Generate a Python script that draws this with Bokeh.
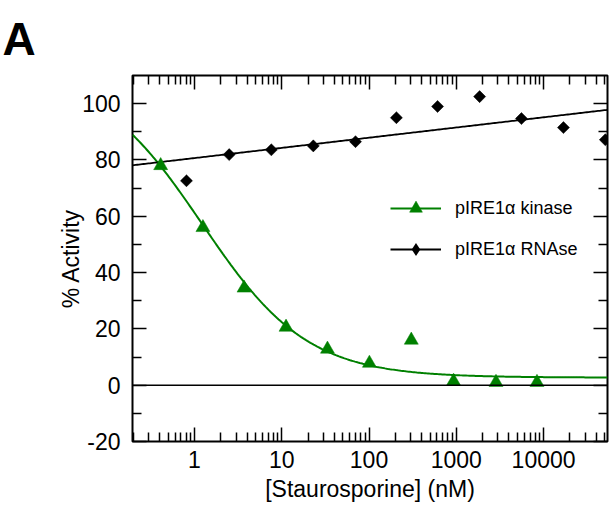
import numpy as np
from bokeh.plotting import figure
from bokeh.models import (LogAxis, LinearAxis, FixedTicker, Legend, LegendItem,
                          Span, Range1d, ColumnDataSource, CDSView, IndexFilter)
from bokeh.embed import file_html
from bokeh.resources import INLINE

# ---- data ----
kinase_conc = [0.41, 1.25, 3.7, 11.2, 33.4, 101, 305, 930, 2850, 8400]
kinase_activity = [78.0, 56.0, 34.5, 20.6, 12.8, 7.8, 16.0, 1.4, 1.0, 1.0]
rnase_conc = [0.81, 2.5, 7.6, 23, 70, 206, 610, 1850, 5580, 16900, 51000]
rnase_activity = [72.6, 81.9, 83.6, 85.0, 86.5, 95.0, 99.0, 102.5, 94.7, 91.5, 87.2]

# fitted model parameters
kin_top, kin_bottom, kin_ic50, kin_hill = 112.0, 2.7, 1.22, 0.72
rna_intercept, rna_slope = 80.67, 3.62   # activity = a + b*log10(conc)

x_major = [1, 10, 100, 1000, 10000]
x_labels = ["1", "10", "100", "1000", "10000"]
y_major = [-20, 0, 20, 40, 60, 80, 100]
y_labels = ["-20", "0", "20", "40", "60", "80", "100"]
y_minor = [-10, 10, 30, 50, 70, 90]
x_lo, x_hi = 0.195, 54000
y_lo, y_hi = -20, 110

FONT = "Liberation Sans"
GREEN = "#008000"

p = figure(width=610, height=507, x_axis_type="log",
           x_range=Range1d(x_lo, x_hi), y_range=Range1d(y_lo, y_hi),
           output_backend="svg", toolbar_location=None,
           min_border_left=132, min_border_right=3,
           min_border_top=74, min_border_bottom=66)
p.xgrid.visible = False
p.ygrid.visible = False
p.outline_line_color = "black"
p.outline_line_width = 2
p.outline_line_alpha = 1
p.background_fill_color = "white"
p.border_fill_color = "white"

p.title.text = "A"
p.title.align = "left"
p.title.offset = -130
p.title.standoff = 21
p.title.text_font = FONT
p.title.text_font_size = "46px"
p.title.text_font_style = "bold"
p.title.text_color = "black"

x_minor = [m * 10.0 ** e for e in range(-1, 5) for m in range(2, 10)]
xt = FixedTicker(ticks=x_major, minor_ticks=x_minor)
yt = FixedTicker(ticks=y_major, minor_ticks=y_minor)

def style(ax, labels=True):
    ax.axis_line_color = None
    ax.major_tick_in = 14
    ax.major_tick_out = 0
    ax.minor_tick_in = 9
    ax.minor_tick_out = 0
    ax.major_tick_line_color = "black"
    ax.minor_tick_line_color = "black"
    ax.major_tick_line_width = 1.5
    ax.minor_tick_line_width = 1.5
    ax.major_label_text_font = FONT
    ax.major_label_text_color = "black"
    ax.axis_label_text_font = FONT
    ax.axis_label_text_color = "black"
    ax.axis_label_text_font_style = "normal"
    if labels:
        ax.major_label_text_font_size = "23px"
        ax.axis_label_text_font_size = "23px"
    else:
        ax.major_label_text_font_size = "1px"
        ax.major_label_text_alpha = 0
        ax.major_label_standoff = 0

xa = p.xaxis[0]
xa.ticker = xt
xa.major_label_overrides = {t: s for t, s in zip(x_major, x_labels)}
xa.axis_label = "[Staurosporine] (nM)"
style(xa)
xa.major_label_standoff = 9
xa.axis_label_standoff = 5

ya = p.yaxis[0]
ya.ticker = yt
ya.major_label_overrides = {t: s for t, s in zip(y_major, y_labels)}
ya.axis_label = "% Activity"
style(ya)
ya.major_label_standoff = 12
ya.axis_label_standoff = -5

top = LogAxis(ticker=xt)
style(top, labels=False)
p.add_layout(top, "above")
right = LinearAxis(ticker=yt)
style(right, labels=False)
p.add_layout(right, "right")

# zero line
p.add_layout(Span(location=0, dimension="width", line_color="black", line_width=1.5))

# fit curves
xs = np.logspace(np.log10(x_lo), np.log10(x_hi), 300)
kin_fit = kin_bottom + (kin_top - kin_bottom) / (1 + (xs / kin_ic50) ** kin_hill)
rna_fit = rna_intercept + rna_slope * np.log10(xs)

r_kin_line = p.line(xs, kin_fit, line_color=GREEN, line_width=2)
r_rna_line = p.line(xs, rna_fit, line_color="black", line_width=1.8)

r_kin_pts = p.scatter(kinase_conc, kinase_activity, marker="triangle", size=14,
                      fill_color=GREEN, line_color=GREEN, line_width=0.5)
rna_src = ColumnDataSource(dict(x=rnase_conc, y=rnase_activity))
r_rna_pts = p.scatter("x", "y", source=rna_src, marker="square", size=8.5,
                      angle=np.pi / 4, fill_color="black", line_color="black", line_width=0.5)
# legend glyph (diamond): drawn only on the first point, hidden inside its rotated square
r_rna_leg = p.scatter("x", "y", source=rna_src, view=CDSView(filter=IndexFilter([0])),
                      marker="diamond", size=11, fill_color="black", line_color="black",
                      line_width=0)

legend = Legend(items=[
    LegendItem(label="pIRE1\u03b1 kinase", renderers=[r_kin_line, r_kin_pts]),
    LegendItem(label="pIRE1\u03b1 RNAse", renderers=[r_rna_line, r_rna_leg]),
], location=(258, 176))
legend.label_text_font = FONT
legend.label_text_font_size = "18px"
legend.label_text_color = "black"
legend.glyph_width = 51
legend.glyph_height = 32
legend.label_height = 20
legend.spacing = 9
legend.padding = 0
legend.margin = 0
legend.label_standoff = 14
legend.border_line_color = None
legend.background_fill_alpha = 0
p.add_layout(legend, "center")

open("out.html", "w").write(file_html(p, INLINE))
